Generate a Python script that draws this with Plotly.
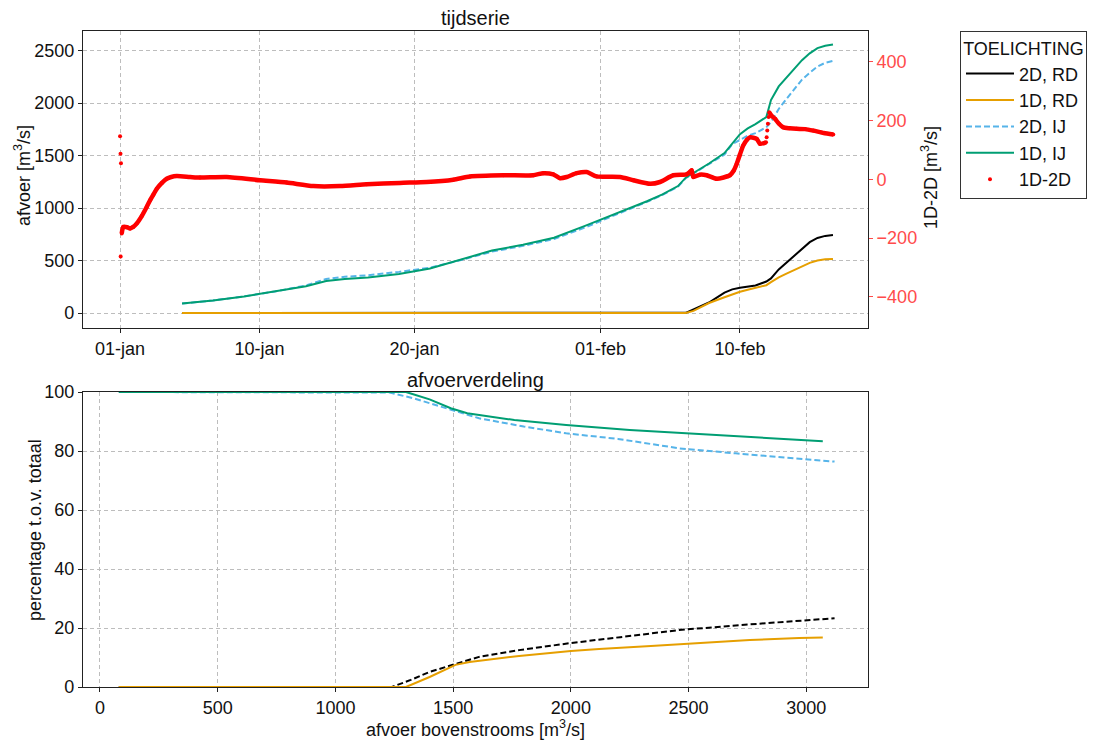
import pandas as pd
import plotly.graph_objects as go

# ---------------- data: top panel (tijdserie) ----------------
start_date = "2021-01-01"
line_days = [4, 6, 8, 10, 12, 13.3, 14.5, 16, 18, 20, 22, 24, 26, 28, 30, 32, 34, 35, 36,
             36.5, 37, 37.5, 38, 39, 39.5, 40, 40.5, 41, 41.7, 42, 42.5, 43, 43.5, 44,
             44.5, 45, 45.5, 46]
ij_1d = [90, 120, 158, 205, 255, 305, 325, 338, 372, 425, 510, 595, 650, 718, 830, 945, 1065,
         1130, 1210, 1290, 1335, 1385, 1425, 1525, 1610, 1705, 1760, 1800, 1868, 2030, 2160,
         2240, 2320, 2410, 2475, 2525, 2548, 2559]
ij_2d = [90, 120, 158, 205, 262, 325, 345, 360, 392, 432, 505, 585, 640, 705, 815, 935, 1060,
         1125, 1205, 1285, 1330, 1380, 1420, 1510, 1610, 1650, 1690, 1715, 1770, 1820, 1945,
         2040, 2130, 2225, 2290, 2350, 2385, 2403]
rd_2d = [0, 0, 0, 0, 0, 0, 0, 0, 0, 0, 0, 0, 0, 0, 0, 0, 0, 0, 0,
         2, 35, 70, 100, 195, 225, 241, 252, 262, 300, 330, 415, 480, 550, 610, 675, 715, 735, 743]
rd_1d = [0, 0, 0, 0, 0, 0, 0, 0, 0, 0, 0, 0, 0, 0, 0, 0, 0, 0, 0,
         0, 20, 55, 95, 150, 180, 203, 222, 240, 265, 295, 340, 375, 410, 445, 478, 500, 512, 515]

# 1D-2D difference (right axis), continuous parts
diff_days_a = [0.11, 0.21, 0.45, 0.65, 0.85, 1.08, 1.4, 1.72, 1.94, 2.15, 2.37, 2.7, 3.01, 3.3,
               3.66, 4.52, 5.16, 6.88, 9.03, 10.75, 12.47, 14.19, 15.92, 18.06, 19.79, 21.5,
               22.58, 24.73, 26.66, 27.31, 27.95, 28.39, 28.82, 29.46, 30.11, 30.75, 32.26,
               33.12, 34.19, 34.84, 35.7, 36.56, 36.77, 36.88, 36.99, 37.4, 37.85, 38.5,
               39.35, 39.6, 39.79, 40.0, 40.21, 40.45, 40.65, 41.08, 41.29, 41.68]
diff_vals_a = [-184, -162, -163, -167, -162, -150, -125, -94, -71, -52, -32, -12, 2, 8,
               11, 8, 6, 8, -3, -11, -23, -23, -17, -12, -9, -1,
               10, 14, 14, 21, 17, 4, 8, 21, 25, 10, 8,
               -3, -15, -9, 14, 17, 25, 31, 8, 16, 14, 2,
               14, 30, 53, 85, 115, 135, 143, 138, 121, 126]
diff_days_b = [41.89, 42.05, 42.26, 42.5, 42.79, 43.2, 43.66, 44.2, 44.73, 45.4, 46.02]
diff_vals_b = [228, 216, 206, 190, 177, 174, 172, 171, 166, 158, 153]
# isolated points
diff_days_c = [0.0, 0.03, 0.06, 0.04, 41.72, 41.76, 41.80, 41.85]
diff_vals_c = [147, 87, 55, -263, 143, 166, 189, 212]

top_tick_days = ["2021-01-01", "2021-01-10", "2021-01-20", "2021-02-01", "2021-02-10"]
top_tick_text = ["01-jan", "10-jan", "20-jan", "01-feb", "10-feb"]

# ---------------- data: bottom panel (afvoerverdeling) ----------------
b_ij1d_x = [80, 1300, 1320, 1400, 1490, 1560, 1760, 1980, 2250, 2480, 2750, 2960, 3070]
b_ij1d_y = [100, 100, 99.5, 97.5, 94.5, 92.8, 90.5, 88.8, 87.1, 86.0, 84.6, 83.7, 83.3]
b_ij2d_x = [80, 1230, 1330, 1490, 1610, 1800, 1980, 2200, 2460, 2700, 2960, 3120]
b_ij2d_y = [100, 99.8, 97.9, 93.9, 91.1, 88.3, 86.0, 84.1, 80.9, 79.2, 77.5, 76.4]
b_rd2d_x = [80, 1240, 1320, 1400, 1510, 1610, 1780, 2000, 2210, 2460, 2720, 2970, 3120]
b_rd2d_y = [0, 0, 2.4, 5.1, 7.8, 10.2, 12.5, 14.9, 16.9, 19.3, 21.0, 22.4, 23.3]
b_rd1d_x = [80, 1300, 1400, 1510, 1570, 1780, 2000, 2120, 2340, 2550, 2760, 2970, 3070]
b_rd1d_y = [0, 0, 3.4, 7.5, 8.5, 10.5, 12.2, 12.9, 13.9, 14.9, 15.9, 16.6, 16.8]

# ---------------- styling ----------------
C_BLACK = "#000000"
C_ORANGE = "#E69F00"
C_BLUE = "#56B4E9"
C_GREEN = "#009E73"
C_RED = "#FF0000"
C_RED_AX = "#ff4b4b"
FONT = "Liberation Sans, Arial, sans-serif"
GRID = "#bdbdbd"
TICK_FS = 18
LAB_FS = 18

t0 = pd.Timestamp(start_date)
def to_dates(days):
    return [t0 + pd.Timedelta(days=d) for d in days]

fig = go.Figure()

# top panel
fig.add_trace(go.Scatter(x=to_dates(line_days), y=rd_2d, mode="lines", name="2D, RD",
                         line=dict(color=C_BLACK, width=2), xaxis="x", yaxis="y"))
fig.add_trace(go.Scatter(x=to_dates(line_days), y=rd_1d, mode="lines", name="1D, RD",
                         line=dict(color=C_ORANGE, width=2), xaxis="x", yaxis="y"))
fig.add_trace(go.Scatter(x=to_dates(line_days), y=ij_2d, mode="lines", name="2D, IJ",
                         line=dict(color=C_BLUE, width=2, dash="6px,3px"), xaxis="x", yaxis="y"))
fig.add_trace(go.Scatter(x=to_dates(line_days), y=ij_1d, mode="lines", name="1D, IJ",
                         line=dict(color=C_GREEN, width=2), xaxis="x", yaxis="y"))
for dd, vv in ((diff_days_a, diff_vals_a), (diff_days_b, diff_vals_b)):
    fig.add_trace(go.Scatter(x=to_dates(dd), y=vv, mode="lines", showlegend=False,
                             line=dict(color=C_RED, width=4.5, shape="spline", smoothing=0.6),
                             xaxis="x", yaxis="y2", hoverinfo="skip"))
fig.add_trace(go.Scatter(x=to_dates(diff_days_a + diff_days_b + diff_days_c),
                         y=diff_vals_a + diff_vals_b + diff_vals_c,
                         mode="markers", name="1D-2D",
                         marker=dict(color=C_RED, size=4), xaxis="x", yaxis="y2"))

# bottom panel
fig.add_trace(go.Scatter(x=b_rd2d_x, y=b_rd2d_y, mode="lines", showlegend=False,
                         line=dict(color=C_BLACK, width=2, dash="6px,3px"), xaxis="x2", yaxis="y3"))
fig.add_trace(go.Scatter(x=b_rd1d_x, y=b_rd1d_y, mode="lines", showlegend=False,
                         line=dict(color=C_ORANGE, width=2), xaxis="x2", yaxis="y3"))
fig.add_trace(go.Scatter(x=b_ij2d_x, y=b_ij2d_y, mode="lines", showlegend=False,
                         line=dict(color=C_BLUE, width=2, dash="6px,3px"), xaxis="x2", yaxis="y3"))
fig.add_trace(go.Scatter(x=b_ij1d_x, y=b_ij1d_y, mode="lines", showlegend=False,
                         line=dict(color=C_GREEN, width=2), xaxis="x2", yaxis="y3"))

W, H = 1103, 740
xdom = [83 / W, 868 / W]
top_dom = [1 - 328 / H, 1 - 31 / H]
bot_dom = [1 - 687 / H, 1 - 392 / H]
xmid = (xdom[0] + xdom[1]) / 2

axis_common = dict(showline=True, linecolor="#222", linewidth=1.2, mirror=True,
                   ticks="outside", ticklen=4, tickcolor="#222", zeroline=False,
                   tickfont=dict(size=TICK_FS, color="#111"), automargin=False,
                   gridcolor=GRID, griddash="4px,3px", gridwidth=1)

def label(text, x_px, y_px, angle=0, size=LAB_FS):
    return dict(text=text, x=x_px / W, y=1 - y_px / H, xref="paper", yref="paper",
                showarrow=False, textangle=angle, font=dict(size=size, color="#111"),
                xanchor="center", yanchor="middle")

fig.update_layout(
    template="none",
    width=W, height=H,
    margin=dict(l=0, r=0, t=0, b=0, pad=0, autoexpand=False),
    paper_bgcolor="white", plot_bgcolor="white",
    font=dict(family=FONT, size=LAB_FS, color="#111"),
    xaxis=dict(domain=xdom, anchor="y", type="date",
               range=[t0 + pd.Timedelta(days=-2.39), t0 + pd.Timedelta(days=48.26)],
               tickvals=top_tick_days, ticktext=top_tick_text, showgrid=True, **axis_common),
    yaxis=dict(domain=top_dom, anchor="x", range=[-143, 2688], tickvals=[0, 500, 1000, 1500, 2000, 2500],
               showgrid=True, **axis_common),
    yaxis2=dict(overlaying="y", side="right", anchor="x", range=[-506, 505],
                tickvals=[-400, -200, 0, 200, 400], showgrid=False, showline=False,
                ticks="outside", ticklen=4, tickcolor=C_RED_AX, zeroline=False, automargin=False,
                tickfont=dict(size=TICK_FS, color=C_RED_AX)),
    xaxis2=dict(domain=xdom, anchor="y3", range=[-72, 3262],
                tickvals=[0, 500, 1000, 1500, 2000, 2500, 3000], showgrid=True,
                **axis_common),
    yaxis3=dict(domain=bot_dom, anchor="x2", range=[0, 100], tickvals=[0, 20, 40, 60, 80, 100],
                showgrid=True, **axis_common),
    legend=dict(x=960 / W, y=1 - 31 / H, xanchor="left", yanchor="top",
                bgcolor="white", bordercolor="#333", borderwidth=1,
                font=dict(size=18, color="#111"),
                title=dict(text="TOELICHTING", font=dict(size=18), side="top center"),
                itemwidth=48, tracegroupgap=0),
    annotations=[
        label("tijdserie", xmid * W, 18, size=20),
        label("afvoerverdeling", xmid * W, 380, size=20),
        label("afvoer [m<sup>3</sup>/s]", 22, 176, angle=-90),
        label("1D-2D [m<sup>3</sup>/s]", 929, 178, angle=-90),
        label("percentage t.o.v. totaal", 35, 530, angle=-90),
        label("afvoer bovenstrooms [m<sup>3</sup>/s]", xmid * W, 728.5),
    ],
)

fig.write_html("out.html")
